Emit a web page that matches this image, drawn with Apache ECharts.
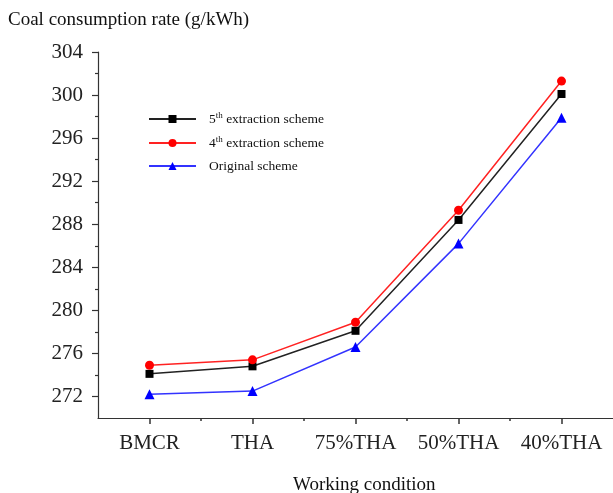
<!DOCTYPE html>
<html>
<head>
<meta charset="utf-8">
<script src="https://cdn.jsdelivr.net/npm/echarts@6/dist/echarts.min.js"></script>
<style>
  html, body { margin: 0; padding: 0; background: #fff; }
  #chart { width: 613px; height: 493px; }
</style>
</head>
<body>
<div id="chart"></div>
<script>
    // working conditions along x
    var categories = ['BMCR', 'THA', '75%THA', '50%THA', '40%THA'];
    // coal consumption rate, g/kWh
    var fifthExtraction = [274.1, 274.8, 278.1, 288.4, 300.1];
    var fourthExtraction = [274.9, 275.4, 278.9, 289.3, 301.3];
    var originalScheme = [272.2, 272.5, 276.6, 286.2, 297.9];
    var yTickLabels = [272, 276, 280, 284, 288, 292, 296, 300, 304];
    var yMinorTicks = [274, 278, 282, 286, 290, 294, 298, 302];

    var font = '"Liberation Serif", "Times New Roman", serif';
    var xMajor = categories.map(function(c, i){ return i + 1; });
    var xMinor = [1.5, 2.5, 3.5, 4.5];

    var toPoints = function(vals){
        return vals.map(function(v, i){ return [i + 1, v]; });
    };

    var axisLineStyle = { color: '#333', width: 1.2 };

    var option = {
        animation: false,
        backgroundColor: '#fff',
        title: [
            {
                text: 'Coal consumption rate (g/kWh)',
                left: 3, top: 6,
                textStyle: { fontFamily: font, fontSize: 19, fontWeight: 'normal', color: '#111' }
            },
            {
                text: 'Working condition',
                left: 288, top: 471,
                textStyle: { fontFamily: font, fontSize: 19, fontWeight: 'normal', color: '#111' }
            }
        ],
        legend: {
            orient: 'vertical',
            left: 148, top: 111, padding: 0,
            itemWidth: 47, itemHeight: 10, itemGap: 9,
            textStyle: {
                fontFamily: font, fontSize: 13.5, color: '#111',
                rich: {
                    sup: { fontFamily: font, fontSize: 9, verticalAlign: 'top', padding: [0, 0, 7, 0], color: '#111' },
                    n: { fontFamily: font, fontSize: 13.5, color: '#111' },
                    p: { width: 8 }
                }
            },
            formatter: function(name){
                var m = name.match(/^(\d)th (.*)$/);
                if(m){
                    return '{p|}{n|' + m[1] + '}{sup|th}{n| ' + m[2] + '}';
                }
                return '{p|}{n|' + name + '}';
            },
            data: ['5th extraction scheme', '4th extraction scheme', 'Original scheme']
        },
        grid: { left: 98, right: -1, top: 52, bottom: 75 },
        xAxis: [
            {
                type: 'value', min: 0.5, max: 5.5,
                axisLine: { show: true, lineStyle: axisLineStyle },
                axisTick: { show: true, customValues: xMajor, length: 6, lineStyle: { color: '#333', width: 1.5 } },
                axisLabel: {
                    customValues: xMajor, margin: 15,
                    fontFamily: font, fontSize: 21, color: '#222',
                    formatter: function(v){ return categories[Math.round(v) - 1] || ''; }
                },
                splitLine: { show: false }
            },
            {
                type: 'value', min: 0.5, max: 5.5, position: 'bottom',
                axisLine: { show: false },
                axisTick: { show: true, customValues: xMinor, length: 3, lineStyle: { color: '#333', width: 1.5 } },
                axisLabel: { show: false },
                splitLine: { show: false }
            }
        ],
        yAxis: [
            {
                type: 'value', min: 270, max: 304,
                axisLine: { show: true, lineStyle: axisLineStyle },
                axisTick: { show: true, customValues: yTickLabels, length: 6, lineStyle: { color: '#333', width: 1.2 } },
                axisLabel: {
                    customValues: yTickLabels, margin: 15,
                    fontFamily: font, fontSize: 21, color: '#222'
                },
                splitLine: { show: false }
            },
            {
                type: 'value', min: 270, max: 304, position: 'left',
                axisLine: { show: false },
                axisTick: { show: true, customValues: yMinorTicks, length: 3, lineStyle: { color: '#333', width: 1.2 } },
                axisLabel: { show: false },
                splitLine: { show: false }
            }
        ],
        series: [
            {
                name: '5th extraction scheme', type: 'line',
                symbol: 'rect', symbolSize: 8,
                itemStyle: { color: '#000' },
                lineStyle: { color: '#222', width: 1.5 },
                data: toPoints(fifthExtraction)
            },
            {
                name: '4th extraction scheme', type: 'line',
                symbol: 'circle', symbolSize: 9,
                itemStyle: { color: '#f00' },
                lineStyle: { color: '#f22', width: 1.5 },
                data: toPoints(fourthExtraction)
            },
            {
                name: 'Original scheme', type: 'line',
                symbol: 'triangle', symbolSize: 10,
                itemStyle: { color: '#00f' },
                lineStyle: { color: '#33f', width: 1.5 },
                data: toPoints(originalScheme)
            }
        ]
    };

    echarts.init(document.getElementById('chart')).setOption(option);
</script>
</body>
</html>
